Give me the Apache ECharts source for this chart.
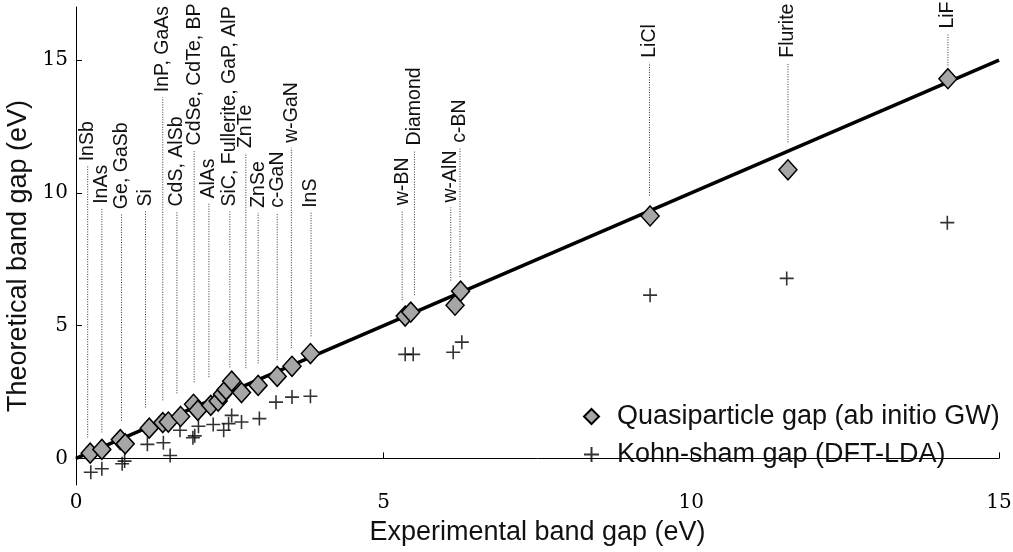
<!DOCTYPE html>
<html><head><meta charset="utf-8">
<script src="https://cdn.jsdelivr.net/npm/echarts@6/dist/echarts.min.js"></script>
<style>html,body{margin:0;padding:0;background:#fff}#c{width:1013px;height:552px}</style>
</head><body><div id="c"></div>
<script>
// Quasiparticle (GW) gaps: experimental x, theoretical y
const gwX = [0.23,0.42,0.72,0.80,1.19,1.41,1.50,1.70,1.91,1.98,2.19,2.31,2.38,2.44,2.53,2.69,2.96,3.27,3.51,3.81,5.35,5.44,6.16,6.25,9.33,11.57,14.17];
const gwY = [0.20,0.34,0.71,0.55,1.14,1.35,1.37,1.58,2.04,1.81,2.00,2.16,2.42,2.59,2.91,2.48,2.75,3.09,3.47,3.95,5.36,5.51,5.77,6.30,9.13,10.87,14.30];
// Kohn-Sham (DFT-LDA) gaps
const ldaX = [0.24,0.42,0.75,0.79,1.16,1.42,1.53,1.69,1.90,1.93,1.99,2.23,2.40,2.48,2.53,2.69,2.98,3.25,3.51,3.81,5.35,5.48,6.13,6.27,9.33,11.55,14.16];
const ldaY = [-0.52,-0.39,-0.20,-0.10,0.53,0.59,0.11,1.06,0.78,0.85,1.21,1.28,1.06,1.31,1.62,1.37,1.50,2.12,2.31,2.34,3.92,3.92,4.00,4.38,6.15,6.78,8.88];
// Material annotations
const labelNames = ['InSb','InAs','Ge, GaSb','Si','InP, GaAs','CdS, AlSb','CdSe, CdTe, BP','AlAs','SiC, Fullerite, GaP, AlP','ZnTe','ZnSe','c-GaN','w-GaN','InS','w-BN','Diamond','w-AlN','c-BN','LiCl','Flurite','LiF'];
const labelX = [0.19,0.42,0.74,1.13,1.41,1.64,1.92,2.16,2.50,2.76,2.96,3.27,3.50,3.82,5.30,5.50,6.09,6.24,9.32,11.57,14.17];
const labelBottom = [0.79,0.98,1.43,1.92,2.19,2.45,2.87,3.06,3.43,3.40,3.58,3.70,4.15,4.60,5.96,6.15,6.70,6.83,9.90,11.90,14.80];
const labelTop = [11.0,9.4,9.2,9.3,13.6,9.3,11.6,9.6,9.3,11.5,9.25,9.25,11.7,9.25,9.35,11.6,9.45,11.7,14.9,14.9,16.0];
// Ideal agreement line
const fitX = [0,15];
const fitY = [0,15];
const xTicks = [0,5,10,15];
const yTicks = [0,5,10,15];

const chart = echarts.init(document.getElementById('c'));
const plusPath = 'path://M7,0L7,14M0,7L14,7';
const tickFont = {fontFamily:'DejaVu Serif', fontSize:20, color:'#000'};
chart.setOption({
  animation:false,
  grid:{left:76, right:14, top:7, bottom:67, outerBoundsMode:'none', containLabel:false},
  xAxis:{type:'value', min:0, max:15,
    axisLine:{lineStyle:{color:'#000', width:1}},
    axisTick:{inside:true, length:6, lineStyle:{color:'#000'}, customValues:xTicks},
    axisLabel:Object.assign({margin:8, customValues:xTicks}, tickFont),
    splitLine:{show:false},
    name:'Experimental band gap (eV)', nameLocation:'middle', nameGap:34,
    nameTextStyle:{fontFamily:'Liberation Sans', fontSize:27, color:'#111'}
  },
  yAxis:{type:'value', min:-1, max:17,
    axisLine:{show:true, lineStyle:{color:'#000', width:1}},
    axisTick:{show:true, inside:true, length:6, lineStyle:{color:'#000'}, customValues:yTicks},
    axisLabel:Object.assign({margin:8, customValues:yTicks}, tickFont),
    splitLine:{show:false},
    name:'Theoretical band gap (eV)', nameLocation:'middle', nameGap:38,
    nameTextStyle:{fontFamily:'Liberation Sans', fontSize:27, color:'#111', padding:[0,20,0,0]}
  },
  legend:{orient:'vertical', left:578, top:398, itemGap:11, itemWidth:15, itemHeight:15,
    textStyle:{fontFamily:'Liberation Sans', fontSize:27, color:'#111', padding:[0,0,0,13]},
    data:[{name:'Quasiparticle gap (ab initio GW)', icon:'diamond'},
          {name:'Kohn-sham gap (DFT-LDA)', icon:plusPath}]},
  series:[
    {type:'custom', name:'labels', clip:false, z:1, silent:true,
     data:labelX.map((x,i)=>[x,labelBottom[i],labelTop[i]]),
     renderItem:function(params, api){
       const x=api.value(0), b=api.value(1), t=api.value(2);
       const p1=api.coord([x,b]), p2=api.coord([x,t]);
       return {type:'group', children:[
         {type:'line', shape:{x1:p1[0],y1:p1[1],x2:p2[0],y2:p2[1]},
          style:{stroke:'#333', lineWidth:1, lineDash:[1,1.5]}},
         {type:'text', x:p2[0], y:p2[1]-5, rotation:Math.PI/2,
          style:{text:labelNames[params.dataIndex], fontSize:19.5, fontFamily:'Liberation Sans',
                 fill:'#111', align:'left', verticalAlign:'middle'}}
       ]};
     }},
    {type:'line', name:'fit', data:fitX.map((x,i)=>[x,fitY[i]]), symbol:'none', z:2,
     lineStyle:{color:'#000', width:3.5}, silent:true},
    {type:'scatter', name:'Kohn-sham gap (DFT-LDA)', data:ldaX.map((x,i)=>[x,ldaY[i]]),
     symbol:plusPath, symbolSize:14, z:3,
     itemStyle:{color:'rgba(0,0,0,0)', borderColor:'#000', borderWidth:1.6}},
    {type:'scatter', name:'Quasiparticle gap (ab initio GW)', data:gwX.map((x,i)=>[x,gwY[i]]),
     symbol:'diamond', symbolSize:[18,20], z:4,
     itemStyle:{color:'#a6a6a6', borderColor:'#000', borderWidth:1.5, opacity:1}}
  ]
});
</script></body></html>
